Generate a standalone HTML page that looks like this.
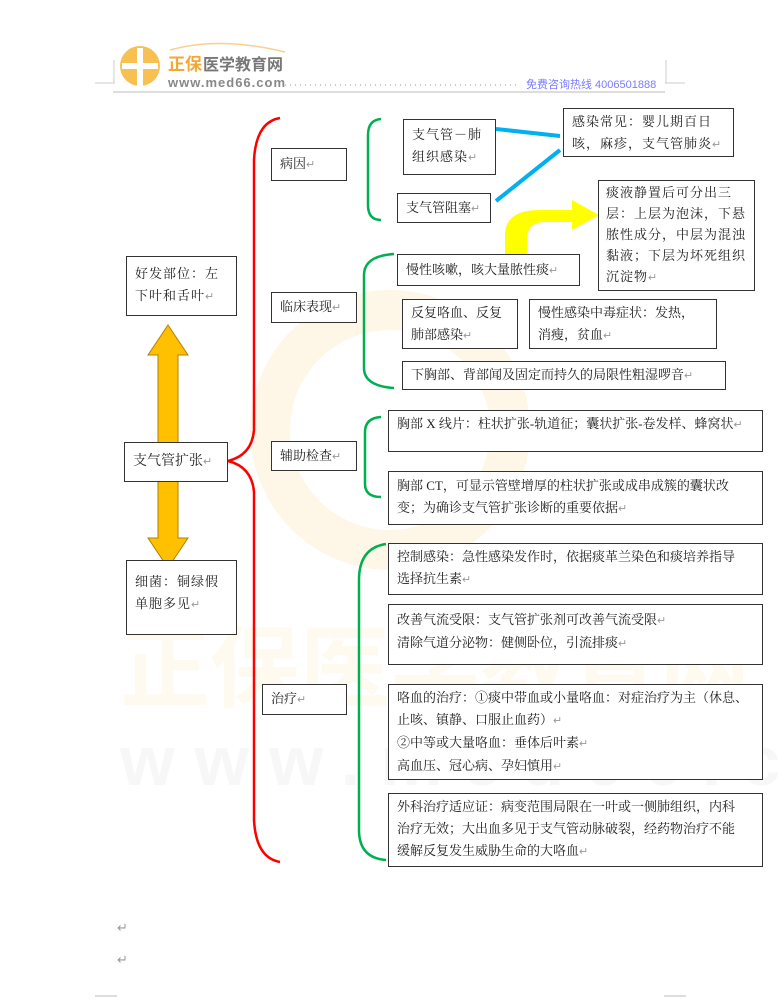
<!DOCTYPE html>
<html><head><meta charset="utf-8">
<style>
body{margin:0;background:#fff;}
#p{position:relative;width:779px;height:1000px;overflow:hidden;background:#fff;font-family:"Liberation Serif","Noto Serif CJK SC",serif;font-size:13px;color:#222;}
.b{position:absolute;border:1px solid #333;background:#fff;box-sizing:border-box;padding:5px 8px;line-height:22px;}
.r{color:#999;font-size:11px;}
svg{position:absolute;left:0;top:0;}
</style></head><body><div id="p">
<svg width="779" height="1000">
 <circle cx="390" cy="430" r="120" fill="none" stroke="#fef7e8" stroke-width="40"/>
 <text x="120" y="700" font-size="90" fill="#fefaf0" font-family="Noto Sans CJK SC,sans-serif" font-weight="bold">正保医学教育网</text>
 <text x="120" y="785" font-size="70" fill="#f7f7f7" font-family="Liberation Sans,sans-serif" font-weight="bold" letter-spacing="20">www.med66.com</text>
 <circle cx="140" cy="66" r="20" fill="#f8c050"/>
 <rect x="137" y="48" width="6" height="38" fill="#fff"/><rect x="122" y="63" width="36" height="6" fill="#fff"/>
 <path d="M170 50 Q220 36 285 52" stroke="#f8d090" stroke-width="1.5" fill="none"/>
 <text x="168" y="70" font-size="17" font-weight="bold" fill="#f4a733" font-family="Noto Sans CJK SC,sans-serif">正保</text>
 <text x="203" y="70" font-size="16" font-weight="bold" fill="#777" font-family="Noto Sans CJK SC,sans-serif">医学教育网</text>
 <text x="168" y="87" font-size="13" font-weight="bold" fill="#888" font-family="Liberation Sans,sans-serif" letter-spacing="1">www.med66.com</text>
 <line x1="285" y1="85" x2="520" y2="85" stroke="#999" stroke-dasharray="1,4"/>
 <text x="526" y="88" font-size="11" fill="#7a7aff" font-family="Liberation Sans,Noto Sans CJK SC,sans-serif">免费咨询热线 4006501888</text>
 <line x1="113" y1="92" x2="665" y2="92" stroke="#bbb"/>
 <line x1="95" y1="83" x2="115" y2="83" stroke="#ccc"/><line x1="114" y1="60" x2="114" y2="83" stroke="#ccc"/>
 <line x1="665" y1="83" x2="685" y2="83" stroke="#ccc"/><line x1="666" y1="60" x2="666" y2="83" stroke="#ccc"/>
 <line x1="95" y1="996" x2="117" y2="996" stroke="#bbb"/><line x1="664" y1="996" x2="686" y2="996" stroke="#bbb"/>
 <polygon points="168,325 188,355 178,355 178,538 188,538 168,568 148,538 158,538 158,355 148,355" fill="#ffc000" stroke="#b08000" stroke-width="1"/>
 <path d="M280 118 Q256 122 254 160 L254 430 Q252 455 228 461 Q252 467 254 492 L254 820 Q256 858 280 862" stroke="#f00" stroke-width="2.5" fill="none"/>
 <path d="M381 119 Q368 120 368 135 L368 205 Q368 220 381 220" stroke="#00b050" stroke-width="2.5" fill="none"/>
 <path d="M394 254 Q364 256 364 275 L364 368 Q364 386 394 388" stroke="#00b050" stroke-width="2.5" fill="none"/>
 <path d="M381 417 Q365 418 365 432 L365 484 Q365 497 381 497" stroke="#00b050" stroke-width="2.5" fill="none"/>
 <path d="M386 544 Q359 548 359 580 L359 830 Q359 858 386 860" stroke="#00b050" stroke-width="2.5" fill="none"/>
 <line x1="496" y1="129" x2="560" y2="136" stroke="#00b0f0" stroke-width="4"/>
 <line x1="496" y1="201" x2="560" y2="150" stroke="#00b0f0" stroke-width="4"/>
 <path d="M505 255 L505 235 Q505 210 540 210 L572 210 L572 200 L599 215 L572 230 L572 222 L545 222 Q527 222 527 240 L527 255 Z" fill="#ffff00"/>
</svg>
<div class="b" style="left:271px;top:148px;width:76px;height:33px;padding-top:4px">病因<span class="r">↵</span></div>
<div class="b" style="left:271px;top:292px;width:86px;height:31px;padding-top:3px">临床表现<span class="r">↵</span></div>
<div class="b" style="left:271px;top:441px;width:86px;height:30px;padding-top:3px">辅助检查<span class="r">↵</span></div>
<div class="b" style="left:262px;top:684px;width:85px;height:31px;padding-top:3px">治疗<span class="r">↵</span></div>
<div class="b" style="left:126px;top:256px;width:111px;height:60px;padding-top:6px;letter-spacing:1px">好发部位：左下叶和舌叶<span class="r">↵</span></div>
<div class="b" style="left:124px;top:442px;width:104px;height:40px;padding-top:8px;font-size:14px">支气管扩张<span class="r">↵</span></div>
<div class="b" style="left:126px;top:560px;width:111px;height:75px;padding-top:10px;letter-spacing:1px">细菌：铜绿假单胞多见<span class="r">↵</span></div>
<div class="b" style="left:403px;top:119px;width:93px;height:56px;padding-top:4px;letter-spacing:1px">支气管－肺组织感染<span class="r">↵</span></div>
<div class="b" style="left:563px;top:108px;width:171px;height:49px;padding-top:2px;letter-spacing:1px">感染常见：婴儿期百日咳，麻疹，支气管肺炎<span class="r">↵</span></div>
<div class="b" style="left:397px;top:193px;width:94px;height:30px;padding-top:3px">支气管阻塞<span class="r">↵</span></div>
<div class="b" style="left:598px;top:180px;width:157px;height:111px;padding:1px 5px 1px 7px;line-height:21px;letter-spacing:1px">痰液静置后可分出三<br>层：上层为泡沫，下悬<br>脓性成分，中层为混浊<br>黏液；下层为坏死组织<br>沉淀物<span class="r">↵</span></div>
<div class="b" style="left:397px;top:254px;width:183px;height:32px;padding-top:4px">慢性咳嗽，咳大量脓性痰<span class="r">↵</span></div>
<div class="b" style="left:402px;top:299px;width:116px;height:50px;padding-top:2px">反复咯血、反复肺部感染<span class="r">↵</span></div>
<div class="b" style="left:529px;top:299px;width:188px;height:50px;padding:2px 8px">慢性感染中毒症状：发热，<br>消瘦，贫血<span class="r">↵</span></div>
<div class="b" style="left:402px;top:361px;width:324px;height:29px;padding-top:2px">下胸部、背部闻及固定而持久的局限性粗湿啰音<span class="r">↵</span></div>
<div class="b" style="left:388px;top:410px;width:375px;height:42px;padding-top:2px">胸部 X 线片：柱状扩张-轨道征；囊状扩张-卷发样、蜂窝状<span class="r">↵</span></div>
<div class="b" style="left:388px;top:471px;width:375px;height:54px;padding-top:3px">胸部 CT，可显示管壁增厚的柱状扩张或成串成簇的囊状改变；为确诊支气管扩张诊断的重要依据<span class="r">↵</span></div>
<div class="b" style="left:388px;top:543px;width:375px;height:52px;padding-top:2px">控制感染：急性感染发作时，依据痰革兰染色和痰培养指导<br>选择抗生素<span class="r">↵</span></div>
<div class="b" style="left:388px;top:604px;width:375px;height:61px;padding-top:4px">改善气流受限：支气管扩张剂可改善气流受限<span class="r">↵</span><br>清除气道分泌物：健侧卧位，引流排痰<span class="r">↵</span></div>
<div class="b" style="left:388px;top:684px;width:375px;height:96px;padding-top:2px">咯血的治疗：①痰中带血或小量咯血：对症治疗为主（休息、<br>止咳、镇静、口服止血药）<span class="r">↵</span><br>②中等或大量咯血：垂体后叶素<span class="r">↵</span><br>高血压、冠心病、孕妇慎用<span class="r">↵</span></div>
<div class="b" style="left:388px;top:793px;width:375px;height:74px;padding:2px 4px 2px 8px;white-space:nowrap">外科治疗适应证：病变范围局限在一叶或一侧肺组织，内科<br>治疗无效；大出血多见于支气管动脉破裂，经药物治疗不能<br>缓解反复发生威胁生命的大咯血<span class="r">↵</span></div>
<div class="r" style="position:absolute;left:117px;top:920px;font-size:13px">↵</div>
<div class="r" style="position:absolute;left:117px;top:952px;font-size:13px">↵</div>
</div></body></html>
